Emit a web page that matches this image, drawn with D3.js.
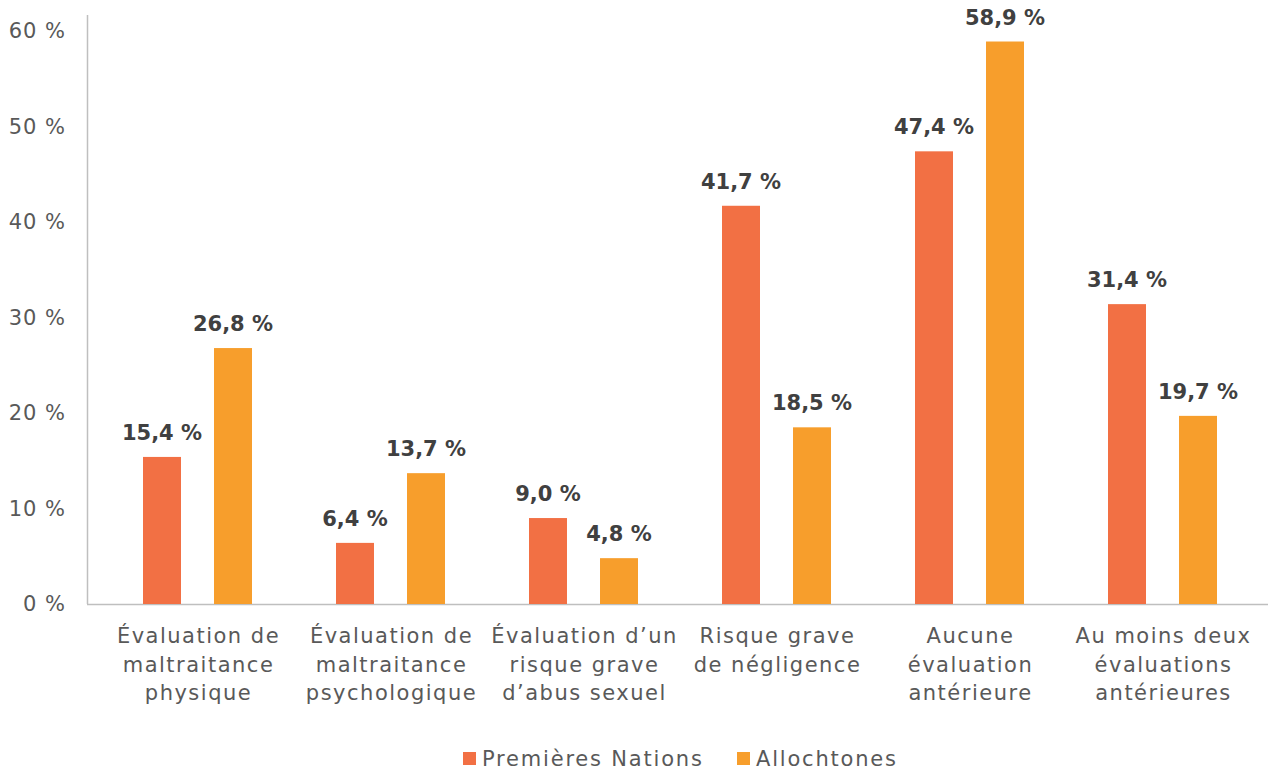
<!DOCTYPE html>
<html><head><meta charset="utf-8">
<script src="https://cdn.jsdelivr.net/npm/d3@7"></script>
<style>body{margin:0;background:#fff;} svg{display:block;}</style>
</head><body>
<svg id="chart" width="1268" height="770"></svg>
<script>
const categories = [
  ["Évaluation de","maltraitance","physique"],
  ["Évaluation de","maltraitance","psychologique"],
  ["Évaluation d’un","risque grave","d’abus sexuel"],
  ["Risque grave","de négligence"],
  ["Aucune","évaluation","antérieure"],
  ["Au moins deux","évaluations","antérieures"]
];
const seriesNames = ["Premières Nations","Allochtones"];
const premieresNations = [15.4, 6.4, 9.0, 41.7, 47.4, 31.4];
const allochtones = [26.8, 13.7, 4.8, 18.5, 58.9, 19.7];
const yTicks = [0,10,20,30,40,50,60];
const colors = ["#F27044","#F79E2C"];

const font = "'DejaVu Sans', sans-serif";
const svg = d3.select("#chart");
const x0 = d3.scaleBand().domain(d3.range(categories.length)).range([101,1259]);
const x1 = d3.scaleBand().domain([0,1]).range([0,109]).paddingInner(0.465);
const y = d3.scaleLinear().domain([0,60]).range([604,31]);
const fmt = v => d3.format(".1f")(v).replace(".", ",") + " %";

// y tick labels
svg.append("g").selectAll("text").data(yTicks).join("text")
  .attr("x", 66).attr("y", d => y(d)).attr("dy","0.35em")
  .attr("text-anchor","end").attr("fill","#595959")
  .style("font-family",font).style("font-size","21px").style("letter-spacing","1px")
  .text(d => d + " %");

// axes lines
svg.append("line").attr("x1",87.5).attr("x2",87.5).attr("y1",15).attr("y2",y(0))
  .attr("stroke","#BFBFBF").attr("stroke-width",1.5);
svg.append("line").attr("x1",87).attr("x2",1268).attr("y1",y(0)+0.5).attr("y2",y(0)+0.5)
  .attr("stroke","#BFBFBF").attr("stroke-width",1.5);

const data = categories.map((c,i) => ({i, vals:[premieresNations[i], allochtones[i]]}));
const groups = svg.append("g").selectAll("g").data(data).join("g")
  .attr("transform", d => `translate(${x0(d.i) + x0.bandwidth()/2 - 54.5},0)`);

groups.selectAll("rect").data(d => d.vals.map((v,k)=>({v,k}))).join("rect")
  .attr("x", d => x1(d.k))
  .attr("width", x1.bandwidth())
  .attr("y", d => y(d.v)).attr("height", d => y(0) - y(d.v))
  .attr("fill", d => colors[d.k]);

groups.selectAll("text.val").data(d => d.vals.map((v,k)=>({v,k}))).join("text")
  .attr("class","val")
  .attr("x", d => x1(d.k) + x1.bandwidth()/2)
  .attr("y", d => y(d.v) - 17)
  .attr("text-anchor","middle").attr("fill","#404040")
  .style("font-family",font).style("font-size","21px").style("font-weight","bold")
  .text(d => fmt(d.v));

// category labels
const cat = svg.append("g").selectAll("text").data(categories).join("text")
  .attr("x", (d,i) => x0(i) + x0.bandwidth()/2 + 1)
  .attr("y", 643)
  .attr("text-anchor","middle").attr("fill","#595959")
  .style("font-family",font).style("font-size","21px").style("letter-spacing","1.5px");
cat.selectAll("tspan").data(d => d).join("tspan")
  .attr("x", function(){ return d3.select(this.parentNode).attr("x"); })
  .attr("dy", (d,j) => j===0 ? 0 : 28.5)
  .text(d => d);

// legend
const legX = [463, 737];
const leg = svg.append("g").selectAll("g").data(seriesNames).join("g")
  .attr("transform",(d,i)=>`translate(${legX[i]},752)`);
leg.append("rect").attr("width",13).attr("height",13).attr("fill",(d,i)=>colors[i]);
leg.append("text").attr("x",19).attr("y",7).attr("dy","0.35em").attr("fill","#595959")
  .style("font-family",font).style("font-size","21px").style("letter-spacing","1.8px").text(d=>d);
</script>
</body></html>
